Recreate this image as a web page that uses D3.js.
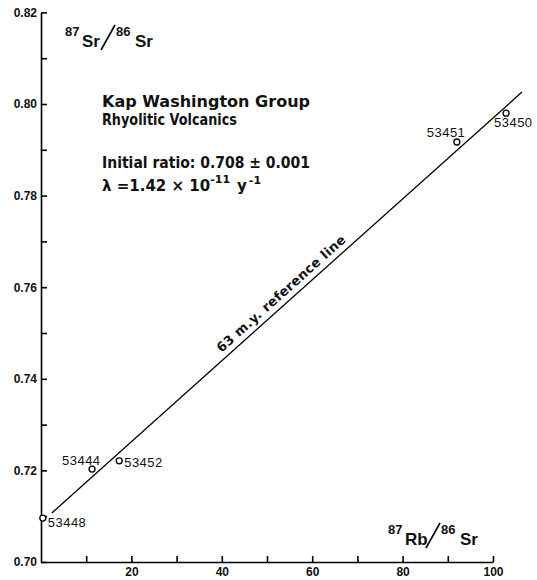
<!DOCTYPE html>
<html><head><meta charset="utf-8">
<script src="https://cdn.jsdelivr.net/npm/d3@7"></script>
<style>
body{margin:0;background:#fff;}
svg text{fill:#111;}
</style></head>
<body><svg id="c" width="537" height="580"></svg>
<script>
// ---- data ----
const sampleIds = ["53448","53444","53452","53451","53450"];
const rbSr = [0.4, 11.3, 17.3, 92.0, 102.9];
const srSr = [0.7096, 0.7203, 0.7221, 0.7917, 0.7980];
const refLineX = [2.4, 106.4];
const refLineY = [0.7107, 0.8026];
const yMajorTicks = [0.70,0.72,0.74,0.76,0.78,0.80,0.82];
const yMinorTicks = [0.71,0.73,0.75,0.77,0.79,0.81];
const xMajorTicks = [20,40,60,80,100];
const xMinorTicks = [10,30,50,70,90];
const titleLines = ["Kap Washington Group","Rhyolitic Volcanics"];

const SANS = "'DejaVu Sans', Verdana, sans-serif";
const LIB = "'Liberation Sans', Arial, sans-serif";

const svg = d3.select("#c");
svg.append("rect").attr("width",537).attr("height",580).attr("fill","#fff");

const x = d3.scaleLinear().domain([0,100]).range([41,493]);
const y = d3.scaleLinear().domain([0.70,0.82]).range([562,12.4]);

// axes
function styleAxis(g){
  g.attr("font-size",null).attr("font-family",null);
  g.selectAll(".domain, .tick line").style("stroke","#000").style("stroke-width","1.6px");
  g.selectAll(".tick text").style("font-family",LIB).style("font-size","12px")
    .style("font-weight","bold").style("fill","#111");
}
svg.append("g").attr("transform",`translate(${x(0)},0)`)
  .call(d3.axisLeft(y).tickValues(yMajorTicks).tickFormat(d3.format(".2f"))
        .tickSizeInner(-6).tickSizeOuter(0).tickPadding(4)).call(styleAxis);
svg.append("g").attr("transform",`translate(${x(0)},0)`)
  .call(d3.axisLeft(y).tickValues(yMinorTicks).tickFormat("")
        .tickSizeInner(-6).tickSizeOuter(0)).call(g=>g.select(".domain").remove()).call(styleAxis);
svg.append("g").attr("transform",`translate(0,${y(0.70)})`)
  .call(d3.axisBottom(x).tickValues(xMajorTicks).tickFormat(d3.format("d"))
        .tickSizeInner(-6).tickSizeOuter(0).tickPadding(5)).call(styleAxis);
svg.append("g").attr("transform",`translate(0,${y(0.70)})`)
  .call(d3.axisBottom(x).tickValues(xMinorTicks).tickFormat("")
        .tickSizeInner(-6).tickSizeOuter(0)).call(g=>g.select(".domain").remove()).call(styleAxis);

// reference line
svg.append("line")
  .attr("x1",x(refLineX[0])).attr("y1",y(refLineY[0]))
  .attr("x2",x(refLineX[1])).attr("y2",y(refLineY[1]))
  .style("stroke","#000").style("stroke-width","1.3px");

// reference line label
const ang = Math.atan2(y(refLineY[1])-y(refLineY[0]), x(refLineX[1])-x(refLineX[0]))*180/Math.PI;
const lx = 40.8;
const ly = refLineY[0] + (lx-refLineX[0])*(refLineY[1]-refLineY[0])/(refLineX[1]-refLineX[0]);
svg.append("text")
  .attr("transform",`translate(${x(lx)},${y(ly)}) rotate(${ang}) translate(0,-6)`)
  .style("font-family",SANS).style("font-size","13px").style("font-weight","bold")
  .attr("textLength",168).attr("lengthAdjust","spacing")
  .text("63 m.y. reference line");

// points
const pts = sampleIds.map((id,i)=>({id, x:rbSr[i], y:srSr[i]}));
svg.selectAll("circle.pt").data(pts).join("circle").attr("class","pt")
  .attr("cx",d=>x(d.x)).attr("cy",d=>y(d.y)).attr("r",3)
  .style("fill","#fff").style("stroke","#000").style("stroke-width","1.3px");
const labOff = {"53448":[5,9,"start"],"53444":[8,-4,"end"],"53452":[5,6,"start"],"53451":[8,-5,"end"],"53450":[-12,14,"start"]};
svg.selectAll("text.pl").data(pts).join("text").attr("class","pl")
  .attr("x",d=>x(d.x)+labOff[d.id][0]).attr("y",d=>y(d.y)+labOff[d.id][1])
  .attr("text-anchor",d=>labOff[d.id][2])
  .style("font-family",LIB).style("font-size","13px")
  .attr("textLength",38).attr("lengthAdjust","spacing")
  .text(d=>d.id);

// title block
function tline(xp,yp,len,txt){
  return svg.append("text").attr("x",xp).attr("y",yp)
    .style("font-family",SANS).style("font-size","15px").style("font-weight","bold")
    .attr("textLength",len).attr("lengthAdjust","spacingAndGlyphs").text(txt);
}
tline(102,107,208,titleLines[0]);
tline(102,125,135,titleLines[1]);
tline(102,168,208,"Initial ratio: 0.708 \u00b1 0.001");
const l4 = svg.append("text").attr("x",102).attr("y",191)
  .style("font-family",SANS).style("font-size","15px").style("font-weight","bold");
l4.append("tspan").text("\u03bb =1.42 \u00d7 10");
l4.append("tspan").style("font-size","11px").attr("dy",-8).text("-11");
l4.append("tspan").attr("dy",8).attr("dx",7).text("y");
l4.append("tspan").style("font-size","11px").attr("dy",-7).attr("dx",2).text("-1");

// axis titles (isotope ratios)
function ratio(x0, yb, a, b){
  const g = svg.append("g");
  const sup = (xx,t)=>g.append("text").attr("x",xx).attr("y",yb-11).text(t)
     .style("font-family",LIB).style("font-size","13px").style("font-weight","bold");
  const big = (xx,t)=>g.append("text").attr("x",xx).attr("y",yb).text(t)
     .style("font-family",LIB).style("font-size","17px").style("font-weight","bold");
  sup(x0,"87");
  big(x0+17,a);
  const w = a==="Rb"?20:18;
  g.append("line").attr("x1",x0+17+w+1).attr("y1",yb+3).attr("x2",x0+17+w+15).attr("y2",yb-22)
    .style("stroke","#000").style("stroke-width","1.6px");
  sup(x0+17+w+16,"86");
  big(x0+17+w+35,b);
}
ratio(65,47,"Sr","Sr");
ratio(388,545,"Rb","Sr");
</script></body></html>
